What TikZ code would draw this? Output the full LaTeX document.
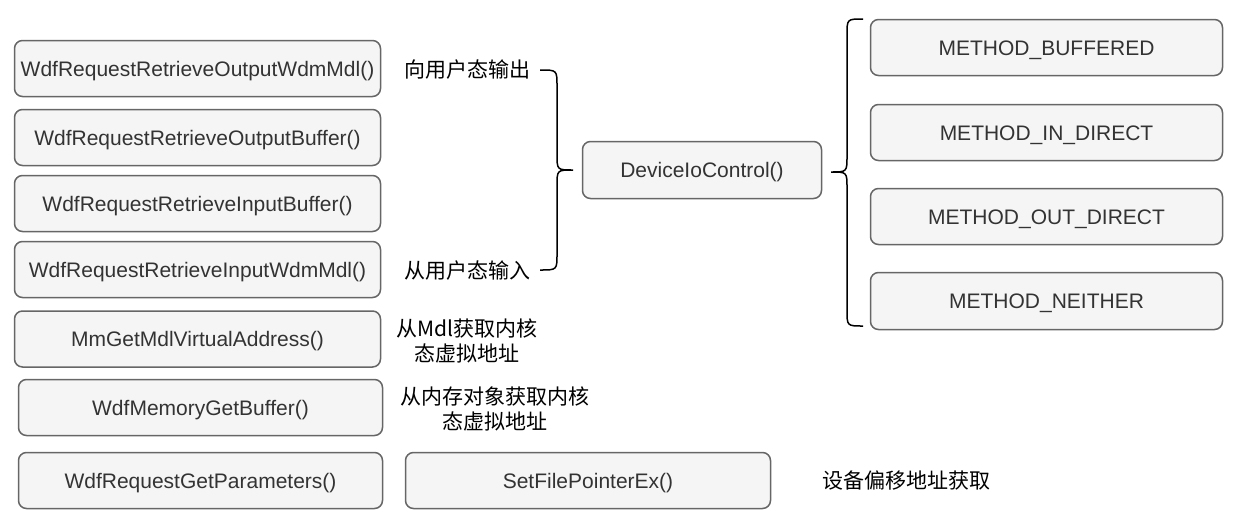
\documentclass[tikz,border=0pt]{standalone}
\usepackage{fontspec}
\setmainfont{Liberation Sans}
\newfontfamily\cjk{Noto Sans CJK SC}
\definecolor{boxfill}{HTML}{F5F5F5}
\definecolor{boxline}{HTML}{666666}
\definecolor{boxtext}{HTML}{333333}
\begin{document}
\begin{tikzpicture}[x=1pt,y=-1pt,
  fbox/.style={draw=boxline,fill=boxfill,line width=1.5pt,rounded corners=8pt,
    inner sep=0pt,text=boxtext,font=\fontsize{21}{25}\selectfont,
    text height=15pt,text depth=0pt,
    minimum width=#1,minimum height=56pt},
  lbl/.style={inner sep=0pt,align=center,text=black,font=\cjk\fontsize{21}{25}\selectfont},
  brace/.style={draw=black,line width=1.5pt}]
\useasboundingbox (0,0) rectangle (1240,525);
% left column
\node[fbox=366pt] (b1) at (197.5,68.5) {WdfRequestRetrieveOutputWdmMdl()};
\node[fbox=366pt] (b2) at (197.5,137.5) {WdfRequestRetrieveOutputBuffer()};
\node[fbox=366pt] (b3) at (197.5,203.5) {WdfRequestRetrieveInputBuffer()};
\node[fbox=366pt] (b4) at (197.5,269.5) {WdfRequestRetrieveInputWdmMdl()};
\node[fbox=366pt] (b5) at (197.5,339) {MmGetMdlVirtualAddress()};
\node[fbox=364pt] (b6) at (200.5,407.5) {WdfMemoryGetBuffer()};
\node[fbox=364pt] (b7) at (200.5,480.5) {WdfRequestGetParameters()};
\node[fbox=365pt] (b8) at (588,480.5) {SetFilePointerEx()};
% center
\node[fbox=239pt,minimum height=57pt] (dev) at (702,170) {DeviceIoControl()};
% right column
\node[fbox=352pt] (m1) at (1046.5,47.5) {METHOD\_BUFFERED};
\node[fbox=352pt] (m2) at (1046.5,132.5) {METHOD\_IN\_DIRECT};
\node[fbox=352pt] (m3) at (1046.5,216.5) {METHOD\_OUT\_DIRECT};
\node[fbox=352pt,minimum height=57pt] (m4) at (1046.5,301) {METHOD\_NEITHER};
% labels
\node[lbl] (l1) at (467,70) {向用户态输出};
\node[lbl] (l2) at (467,271) {从用户态输入};
\node[lbl] (l3) at (467,340.5) {从Mdl获取内核\\态虚拟地址};
\node[lbl] (l4) at (494.5,408.5) {从内存对象获取内核\\态虚拟地址};
\node[lbl] (l5) at (906,481) {设备偏移地址获取};
% left brace
\coordinate (lt) at (540,70);
\coordinate (lb) at (540,270);
\coordinate (ltip) at (573,170);
\draw[brace] (lt) .. controls (557,70) .. (557,86) -- (557,154) .. controls (557,170) .. (ltip)
  .. controls (557,170) .. (557,186) -- (557,254) .. controls (557,270) .. (lb);
% right brace
\coordinate (rt) at (863,19);
\coordinate (rb) at (863,326);
\coordinate (rtip) at (831,172);
\draw[brace] (rt) .. controls (847,19) .. (847,35) -- (847,156) .. controls (847,172) .. (rtip)
  .. controls (847,172) .. (847,188) -- (847,310) .. controls (847,326) .. (rb);
\end{tikzpicture}
\end{document}
